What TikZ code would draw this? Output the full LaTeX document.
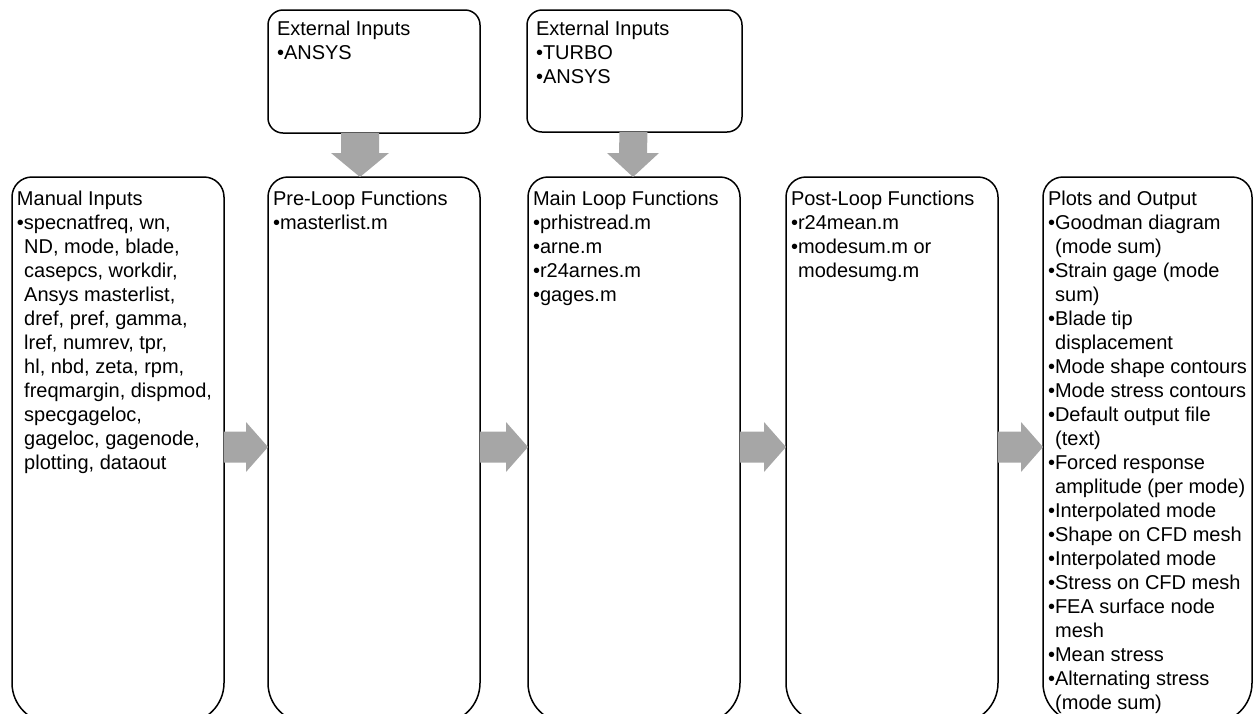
\documentclass[tikz,border=0pt]{standalone}
\usepackage{fontspec}
\setmainfont{Liberation Sans}
\usetikzlibrary{calc}
\definecolor{arrowgray}{RGB}{166,166,166}
\tikzset{
  txt/.style={font=\fontsize{10}{12}\selectfont},
  tall/.style={txt, anchor=north west, inner xsep=2.5pt, inner ysep=0pt, outer sep=0pt},
  ext/.style={txt, draw, line width=0.75pt, rounded corners=7.5pt, anchor=north west, inner xsep=4.5pt, inner ysep=0pt, outer sep=0pt},
  boxline/.style={draw=black, line width=0.75pt},
  blockarrow/.style={fill=arrowgray, draw=none}
}
\newcommand\drawtall[1]{%
  \draw[boxline] ([xshift=10pt]#1.north west) -- ([xshift=-10pt]#1.north east)
    arc[start angle=90,end angle=0,radius=10pt] -- ([yshift=20pt]#1.south east)
    arc[start angle=0,end angle=-90,radius=20pt] -- ([xshift=20pt]#1.south west)
    arc[start angle=270,end angle=180,radius=20pt] -- ([yshift=-10pt]#1.north west)
    arc[start angle=180,end angle=90,radius=10pt] -- cycle;}
% right block arrow from #1 to #2
\newcommand\rarrow[2]{%
  \fill[blockarrow] ([yshift=9.25pt]#1.east) -- ([xshift=-11pt,yshift=9.25pt]#2.west)
    -- ([xshift=-11pt,yshift=14pt]#2.west) -- ([yshift=1.5pt]#2.west)
    -- ([xshift=-11pt,yshift=-11pt]#2.west) -- ([xshift=-11pt,yshift=-6.25pt]#2.west)
    -- ([yshift=-6.25pt]#1.east) -- cycle;}
% down block arrow: #1 from, #2 to, #3 x offset, #4 shaft half, #5 head half
\newcommand\darrow[5]{%
  \fill[blockarrow] ([xshift=#3-#4]#1.south) -- ([xshift=#3-#4,yshift=12pt]#2.north)
    -- ([xshift=#3-#5,yshift=12pt]#2.north) -- ([xshift=#3]#2.north)
    -- ([xshift=#3+#5,yshift=12pt]#2.north) -- ([xshift=#3+#4,yshift=12pt]#2.north)
    -- ([xshift=#3+#4]#1.south) -- cycle;}
\newcommand\ind{\hspace*{3.6pt}}
\begin{document}
\begin{tikzpicture}[x=0.5pt,y=0.5pt]
\useasboundingbox (0,0) rectangle (1254,-713);
\clip (0,0) rectangle (1254,-713);

\node[tall] (manual) at (12,-177) {\parbox[t][273pt][t]{101pt}{\rule{0pt}{14pt}Manual Inputs\\
\textbullet specnatfreq, wn,\\
\ind ND, mode, blade,\\
\ind casepcs, workdir,\\
\ind Ansys masterlist,\\
\ind dref, pref, gamma,\\
\ind lref, numrev, tpr,\\
\ind hl, nbd, zeta, rpm,\\
\ind freqmargin, dispmod,\\
\ind specgageloc,\\
\ind gageloc, gagenode,\\
\ind plotting, dataout}};

\node[tall] (pre) at (268,-177) {\parbox[t][273pt][t]{101pt}{\rule{0pt}{14pt}Pre-Loop Functions\\
\textbullet masterlist.m}};

\node[tall] (main) at (528,-177) {\parbox[t][273pt][t]{101pt}{\rule{0pt}{14pt}Main Loop Functions\\
\textbullet prhistread.m\\
\textbullet arne.m\\
\textbullet r24arnes.m\\
\textbullet gages.m}};

\node[tall] (post) at (786,-177) {\parbox[t][273pt][t]{101pt}{\rule{0pt}{14pt}Post-Loop Functions\\
\textbullet r24mean.m\\
\textbullet modesum.m or\\
\ind modesumg.m}};

\node[tall] (plots) at (1043,-177) {\parbox[t][273pt][t]{99.5pt}{\rule{0pt}{14pt}Plots and Output\\
\textbullet Goodman diagram\\
\ind (mode sum)\\
\textbullet Strain gage (mode\\
\ind sum)\\
\textbullet Blade tip\\
\ind displacement\\
\textbullet Mode shape contours\\
\textbullet Mode stress contours\\
\textbullet Default output file\\
\ind (text)\\
\textbullet Forced response\\
\ind amplitude (per mode)\\
\textbullet Interpolated mode\\
\textbullet Shape on CFD mesh\\
\textbullet Interpolated mode\\
\textbullet Stress on CFD mesh\\
\textbullet FEA surface node\\
\ind mesh\\
\textbullet Mean stress\\
\textbullet Alternating stress\\
\ind (mode sum)}};

\node[ext] (extA) at (268,-10) {\parbox[t][61.5pt][t]{97pt}{\rule{0pt}{12.5pt}External Inputs\\
\textbullet ANSYS}};

\node[ext] (extB) at (527,-10) {\parbox[t][61pt][t]{98.5pt}{\rule{0pt}{12.5pt}External Inputs\\
\textbullet TURBO\\
\textbullet ANSYS}};

\drawtall{manual}
\drawtall{pre}
\drawtall{main}
\drawtall{post}
\drawtall{plots}

\rarrow{manual}{pre}
\rarrow{pre}{main}
\rarrow{main}{post}
\rarrow{post}{plots}

\darrow{extA}{pre}{-7pt}{9.5pt}{14.5pt}
\darrow{extB}{main}{-0.5pt}{7pt}{13pt}
\end{tikzpicture}
\end{document}
